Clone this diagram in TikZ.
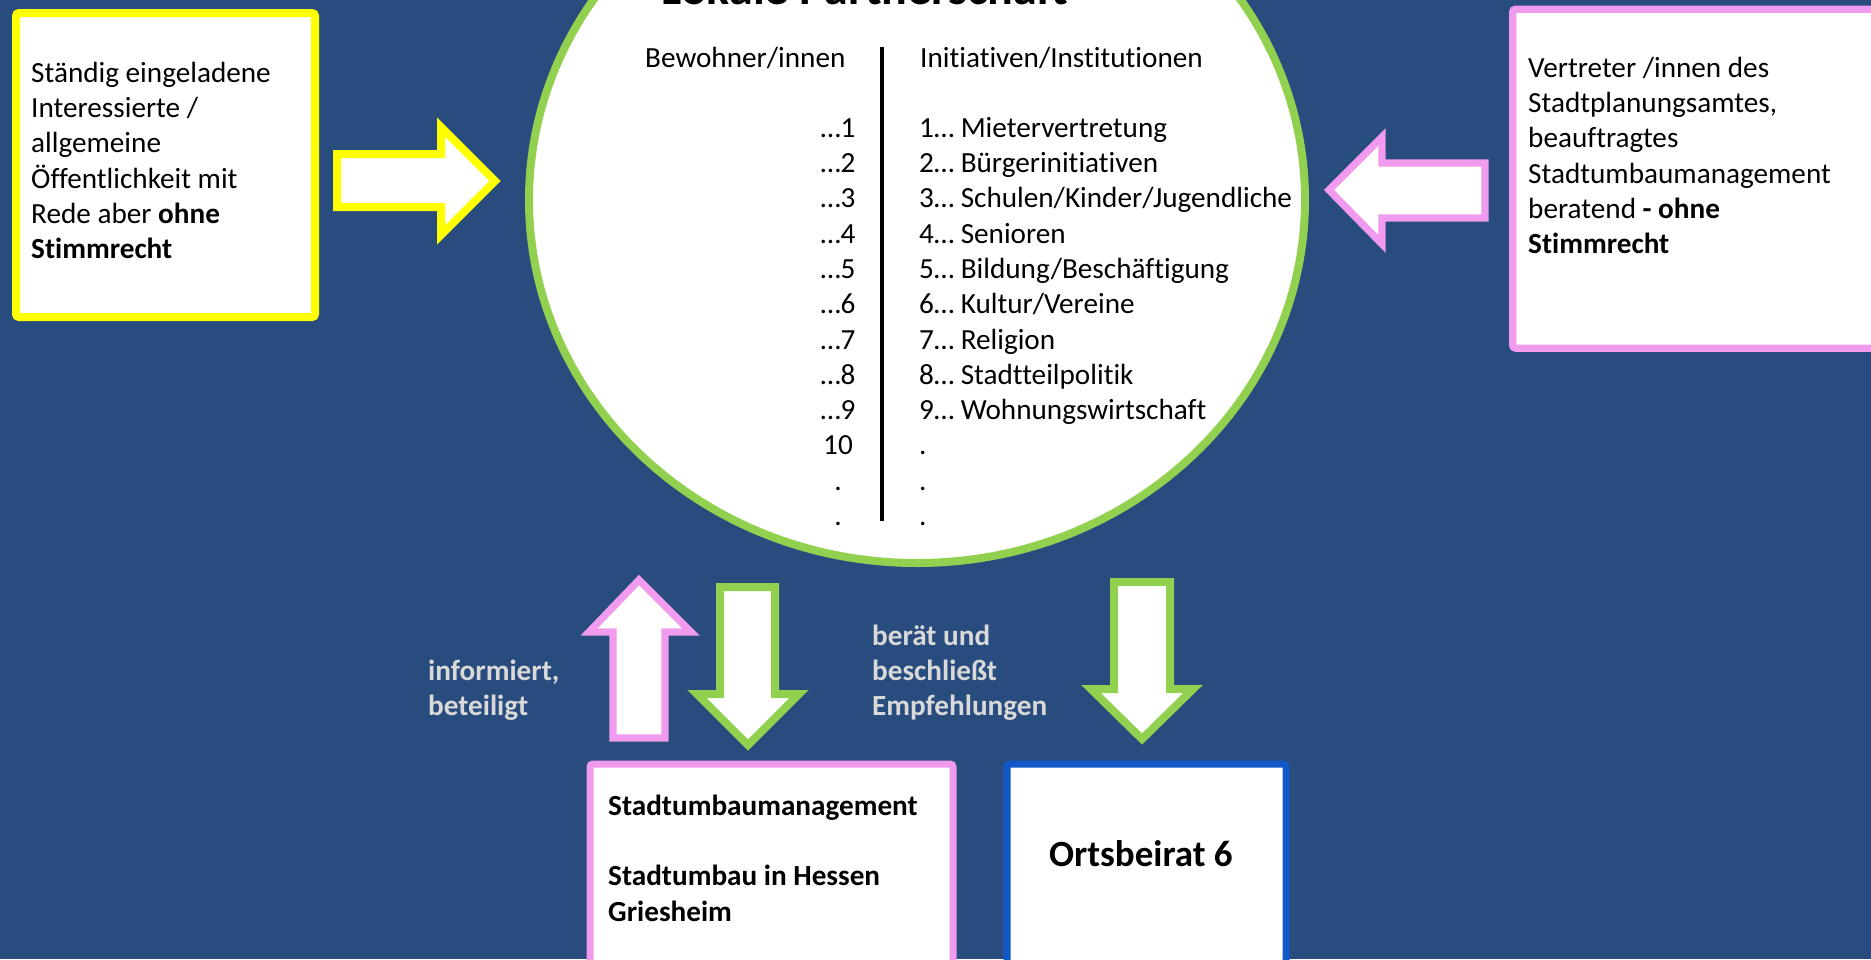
\documentclass[tikz,border=0pt]{standalone}
\usepackage{fontspec}
\setmainfont{Carlito}[Ligatures={NoCommon}, RawFeature={-liga;-dlig;-clig}]
\usetikzlibrary{shapes.geometric}
\definecolor{bgc}{RGB}{41,76,126}
\definecolor{greenc}{RGB}{146,208,80}
\definecolor{pinkc}{RGB}{240,155,238}
\definecolor{yellowc}{RGB}{255,255,0}
\definecolor{bluec}{RGB}{17,88,200}
\definecolor{lgray}{RGB}{217,217,217}
\newcommand{\bodyfont}{\fontsize{29.2}{35.3}\selectfont}
\tikzset{
  boxst/.style={rectangle, fill=white, inner sep=0pt, anchor=north west, rounded corners=3pt},
  blockarrow/.style={fill=white, line width=8pt, line join=miter},
  bodytext/.style={font=\bodyfont, inner sep=0pt, align=left, anchor=north west},
  lbltext/.style={bodytext, font=\bodyfont\bfseries, text=lgray},
}
\begin{document}
\begin{tikzpicture}[x=1pt,y=-1pt]
\useasboundingbox (0,0) rectangle (1871,959);
\fill[bgc] (0,0) rectangle (1871,959);

% boxes
\node[boxst, draw=yellowc, line width=8pt, minimum width=299pt, minimum height=304pt] (ybox) at (12,9) {};
\node[boxst, draw=pinkc, line width=7.3pt, minimum width=371pt, minimum height=339pt] (rbox) at (1509,5.5) {};
\node[boxst, draw=pinkc, line width=7pt, minimum width=363pt, minimum height=215pt] (pbox) at (586.5,760.5) {};
\node[boxst, draw=bluec, line width=7pt, minimum width=279pt, minimum height=215pt] (obox) at (1003.5,760.5) {};

% ring
\node[ellipse, draw=greenc, fill=white, line width=8pt, minimum width=776pt, minimum height=726pt, inner sep=0pt] (ring) at (917,200) {};

% title (cut off at top, as in the reference)
\node[font=\fontsize{48}{56}\selectfont\bfseries, anchor=base, inner sep=0pt] (title) at (865,4) {Lokale Partnerschaft};

% column headers and separator
\node[font=\bodyfont, anchor=base west, inner sep=0pt] (bew) at (645,67) {Bewohner/innen};
\node[font=\bodyfont, anchor=base west, inner sep=0pt] (ini) at (920,67) {Initiativen/Institutionen};
\coordinate (sepT) at (882,47);
\coordinate (sepB) at (882,521);
\draw[line width=4pt] (sepT) -- (sepB);

\node[bodytext, align=center, anchor=north] (nums) at (838,112.3)
  {\strut …1\\…2\\…3\\…4\\…5\\…6\\…7\\…8\\…9\\10\\.\\.};
\node[bodytext] (list) at (919,112.3)
  {\strut 1… Mietervertretung\\2… Bürgerinitiativen\\3… Schulen/Kinder/Jugendliche\\4… Senioren\\5… Bildung/Beschäftigung\\6… Kultur/Vereine\\7… Religion\\8… Stadtteilpolitik\\9… Wohnungswirtschaft\\.\\.\\.};

% box texts
\node[bodytext] (ytext) at (31,57.3)
  {\strut Ständig eingeladene\\Interessierte /\\allgemeine\\Öffentlichkeit mit\\Rede aber \textbf{ohne}\\\textbf{Stimmrecht}};
\node[bodytext] (rtext) at (1528,52.3)
  {\strut Vertreter /innen des\\Stadtplanungsamtes,\\beauftragtes\\Stadtumbaumanagement\\beratend \textbf{- ohne}\\\textbf{Stimmrecht}};
\node[bodytext, font=\bodyfont\bfseries] (ptext) at (608,790.3)
  {\strut Stadtumbaumanagement\\\strut\\Stadtumbau in Hessen\\Griesheim};
\node[font=\fontsize{37}{44}\selectfont\bfseries, anchor=base west, inner sep=0pt] (otext) at (1049,866) {Ortsbeirat 6};

% labels
\node[lbltext] (info) at (428,655.3) {\strut informiert,\\beteiligt};
\node[lbltext] (berat) at (872,620.3) {\strut berät und\\beschließt\\Empfehlungen};

% block arrows
\draw[blockarrow, draw=yellowc] (337,154) -- (441,154) -- (441,127) -- (495,181) -- (441,235) -- (441,207) -- (337,207) -- cycle;
\draw[blockarrow, draw=pinkc, line width=7.3pt] (1485,163) -- (1382,163) -- (1382,137) -- (1329,190) -- (1382,244) -- (1382,218) -- (1485,218) -- cycle;
\draw[blockarrow, draw=pinkc, line width=7.3pt] (613,738) -- (613,632) -- (589,632) -- (639,580) -- (691,632) -- (665,632) -- (665,738) -- cycle;
\draw[blockarrow, draw=greenc] (720,587) -- (775,587) -- (775,694) -- (799,694) -- (748,745) -- (697,694) -- (720,694) -- cycle;
\draw[blockarrow, draw=greenc] (1114,582) -- (1170,582) -- (1170,689) -- (1193,689) -- (1142,739) -- (1091,689) -- (1114,689) -- cycle;
\end{tikzpicture}
\end{document}
